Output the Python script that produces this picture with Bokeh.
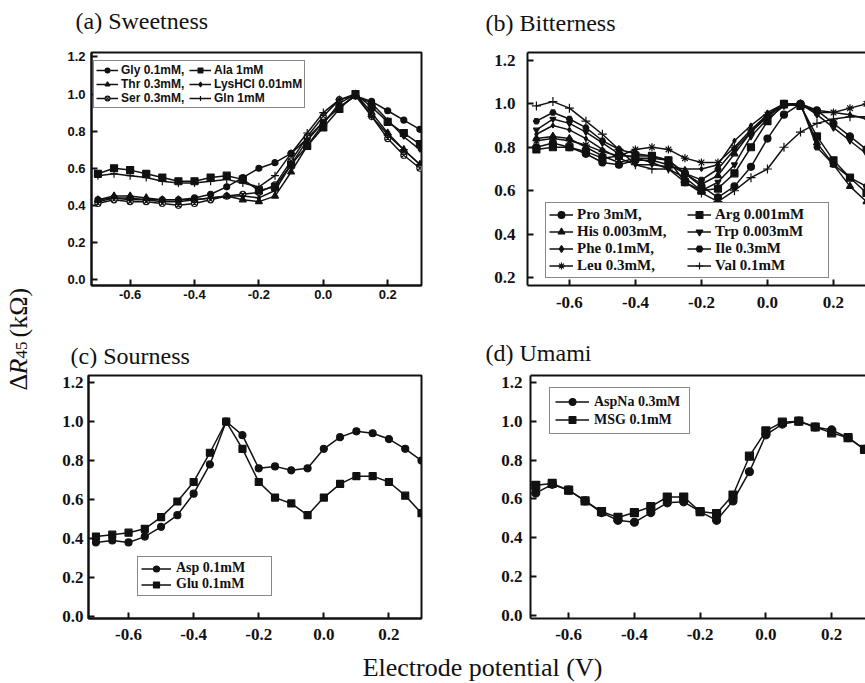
from bokeh.plotting import figure
from bokeh.layouts import row, column
from bokeh.models import Range1d, Legend, LegendItem, LinearAxis, FixedTicker, PrintfTickFormatter
from bokeh.core.properties import value
from bokeh.embed import file_html
from bokeh.resources import INLINE

# ---------------- data ----------------
potential = [-0.70, -0.65, -0.60, -0.55, -0.50, -0.45, -0.40, -0.35, -0.30, -0.25, -0.20,
             -0.15, -0.10, -0.05, 0.00, 0.05, 0.10, 0.15, 0.20, 0.25, 0.30]

x_ticks = [-0.6, -0.4, -0.2, 0.0, 0.2]
y_ticks_full = [0.0, 0.2, 0.4, 0.6, 0.8, 1.0, 1.2]
y_ticks_b = [0.2, 0.4, 0.6, 0.8, 1.0, 1.2]

# (a) Sweetness
gly = [0.43, 0.44, 0.44, 0.43, 0.43, 0.43, 0.44, 0.46, 0.50, 0.55, 0.60, 0.63, 0.68, 0.76, 0.85, 0.93, 0.99, 0.96, 0.91, 0.86, 0.81]
ala = [0.57, 0.60, 0.59, 0.57, 0.55, 0.53, 0.53, 0.55, 0.56, 0.54, 0.48, 0.50, 0.62, 0.72, 0.82, 0.92, 1.00, 0.93, 0.85, 0.79, 0.73]
thr = [0.43, 0.45, 0.45, 0.44, 0.43, 0.43, 0.43, 0.44, 0.45, 0.43, 0.42, 0.45, 0.58, 0.72, 0.84, 0.95, 1.00, 0.90, 0.79, 0.70, 0.62]
lys = [0.42, 0.44, 0.43, 0.43, 0.42, 0.42, 0.43, 0.44, 0.45, 0.45, 0.44, 0.48, 0.62, 0.75, 0.85, 0.93, 0.99, 0.95, 0.86, 0.77, 0.70]
ser = [0.41, 0.43, 0.42, 0.42, 0.41, 0.40, 0.41, 0.43, 0.45, 0.46, 0.47, 0.51, 0.64, 0.77, 0.88, 0.97, 1.00, 0.88, 0.76, 0.67, 0.60]
gln = [0.56, 0.57, 0.56, 0.55, 0.53, 0.52, 0.52, 0.53, 0.54, 0.52, 0.50, 0.56, 0.68, 0.79, 0.90, 0.97, 0.99, 0.88, 0.78, 0.70, 0.62]
labels_a = ["Gly 0.1mM,", "Thr 0.3mM,", "Ser 0.3mM,", "Ala 1mM", "LysHCl 0.01mM", "Gln 1mM"]

# (b) Bitterness
pro = [0.80, 0.82, 0.80, 0.77, 0.73, 0.72, 0.74, 0.74, 0.72, 0.68, 0.62, 0.57, 0.62, 0.71, 0.84, 0.95, 1.00, 0.97, 0.91, 0.85, 0.79]
his = [0.84, 0.85, 0.84, 0.80, 0.76, 0.73, 0.75, 0.75, 0.74, 0.68, 0.63, 0.67, 0.77, 0.87, 0.95, 0.99, 1.00, 0.82, 0.72, 0.62, 0.55]
phe = [0.86, 0.90, 0.88, 0.84, 0.79, 0.75, 0.72, 0.72, 0.71, 0.70, 0.70, 0.72, 0.83, 0.90, 0.96, 1.00, 0.99, 0.97, 0.96, 0.95, 0.93]
leu = [0.83, 0.84, 0.83, 0.81, 0.78, 0.76, 0.79, 0.80, 0.79, 0.75, 0.73, 0.73, 0.80, 0.88, 0.95, 1.00, 1.00, 0.96, 0.96, 0.98, 1.00]
arg = [0.79, 0.80, 0.80, 0.78, 0.75, 0.76, 0.76, 0.76, 0.74, 0.64, 0.60, 0.61, 0.68, 0.80, 0.92, 1.00, 0.99, 0.85, 0.74, 0.66, 0.59]
trp = [0.88, 0.93, 0.91, 0.87, 0.82, 0.77, 0.75, 0.73, 0.70, 0.66, 0.60, 0.64, 0.72, 0.85, 0.93, 0.99, 1.00, 0.95, 0.89, 0.83, 0.77]
ile = [0.92, 0.96, 0.93, 0.89, 0.83, 0.79, 0.77, 0.76, 0.74, 0.68, 0.65, 0.70, 0.79, 0.87, 0.94, 1.00, 1.00, 0.80, 0.72, 0.66, 0.62]
val = [0.99, 1.01, 0.98, 0.92, 0.86, 0.79, 0.72, 0.70, 0.70, 0.64, 0.59, 0.55, 0.60, 0.66, 0.70, 0.80, 0.87, 0.91, 0.93, 0.94, 0.94]
labels_b = ["Pro 3mM,", "His 0.003mM,", "Phe 0.1mM,", "Leu 0.3mM,", "Arg 0.001mM", "Trp 0.003mM", "Ile 0.3mM", "Val 0.1mM"]

# (c) Sourness
asp = [0.38, 0.39, 0.38, 0.41, 0.46, 0.52, 0.63, 0.78, 1.00, 0.93, 0.76, 0.77, 0.75, 0.76, 0.86, 0.92, 0.95, 0.94, 0.91, 0.86, 0.80]
glu = [0.41, 0.42, 0.43, 0.45, 0.51, 0.59, 0.69, 0.84, 1.00, 0.86, 0.69, 0.61, 0.58, 0.52, 0.61, 0.68, 0.72, 0.72, 0.69, 0.62, 0.53]
labels_c = ["Asp 0.1mM", "Glu 0.1mM"]

# (d) Umami
aspna = [0.63, 0.675, 0.645, 0.59, 0.53, 0.49, 0.48, 0.53, 0.58, 0.585, 0.535, 0.49, 0.59, 0.74, 0.93, 0.985, 1.00, 0.97, 0.955, 0.915, 0.855]
msg = [0.67, 0.68, 0.645, 0.59, 0.535, 0.505, 0.53, 0.56, 0.61, 0.61, 0.535, 0.525, 0.62, 0.82, 0.95, 0.995, 1.00, 0.97, 0.94, 0.915, 0.855]
labels_d = ["AspNa 0.3mM", "MSG 0.1mM"]

titles = ["(a) Sweetness", "(b) Bitterness", "(c) Sourness", "(d) Umami"]
y_label_parts = ["\u0394", "R", "45", "(k\u03a9)"]
x_label = "Electrode potential (V)"

SERIF = "Liberation Serif"
SANS = "Liberation Sans"
INK = "#111111"


def make_panel(width, height, bl, br, bt, bb, xr, yr, yticks, tick_font, tick_size,
               xstand, ystand, open_right=False):
    p = figure(width=width, height=height, x_range=Range1d(*xr), y_range=Range1d(*yr),
               output_backend="svg", toolbar_location=None, title=None,
               min_border_left=bl, min_border_right=br, min_border_top=bt, min_border_bottom=bb)
    p.grid.visible = False
    p.background_fill_color = "white"
    p.border_fill_color = "white"
    xa = p.below[0]
    ya = p.left[0]
    xa.ticker = FixedTicker(ticks=x_ticks)
    ya.ticker = FixedTicker(ticks=yticks)
    for ax, st in ((xa, xstand), (ya, ystand)):
        ax.formatter = PrintfTickFormatter(format="%.1f")
        ax.axis_line_width = 2
        ax.axis_line_color = INK
        ax.major_tick_in = 6
        ax.major_tick_out = 0
        ax.major_tick_line_width = 2
        ax.major_tick_line_color = INK
        ax.minor_tick_line_color = None
        ax.major_label_standoff = st
        ax.major_label_text_font = tick_font
        ax.major_label_text_font_style = "bold"
        ax.major_label_text_font_size = tick_size
        ax.major_label_text_color = INK
    if open_right:
        p.outline_line_color = None
        top = LinearAxis(ticker=FixedTicker(ticks=[]), major_label_text_font_size="0px",
                         axis_line_width=2, axis_line_color=INK,
                         major_tick_line_color=None, minor_tick_line_color=None,
                         major_label_standoff=0)
        p.add_layout(top, "above")
    else:
        p.outline_line_color = INK
        p.outline_line_width = 2
    return p


def add_series(p, series, legend_kw, loc, nrows):
    items = []
    for label, ys, marker, fill, msize in series:
        ln = p.line(potential, ys, line_color=INK, line_width=1.5)
        sc = p.scatter(potential, ys, marker=marker, size=msize, line_color=INK,
                       fill_color=fill, line_width=1.2)
        items.append(LegendItem(label=label, renderers=[ln, sc]))
    leg = Legend(items=items, location=loc, nrows=nrows, orientation="vertical",
                 border_line_color=INK, border_line_width=1.5, background_fill_color="white",
                 background_fill_alpha=1.0, margin=0, label_text_color=INK,
                 label_text_font_style="bold", **legend_kw)
    p.add_layout(leg)


def strip(width, height):
    s = figure(width=width, height=height, x_range=Range1d(0, width), y_range=Range1d(0, height),
               output_backend="svg", toolbar_location=None, x_axis_location=None,
               y_axis_location=None, min_border=0, title=None)
    s.grid.visible = False
    s.outline_line_color = None
    s.background_fill_color = "white"
    s.border_fill_color = "white"
    return s


def title_text(s, x, y, txt):
    s.text(x=[x], y=[y], text=[txt], text_align="left", text_baseline="middle",
           text_font=value(SERIF), text_font_style="normal", text_font_size="24px", text_color=INK)


# (a)  page x 50..470, y 40..320
pa = make_panel(420, 280, 41, 49, 12, 35, (-0.72, 0.305), (-0.032, 1.224), y_ticks_full,
                SANS, "13px", 4, 6)
add_series(pa, [
    (labels_a[0], gly, "circle", INK, 6),
    (labels_a[1], thr, "triangle", INK, 7),
    (labels_a[2], ser, "circle_x", "white", 6),
    (labels_a[3], ala, "square", INK, 7),
    (labels_a[4], lys, "diamond", INK, 5),
    (labels_a[5], gln, "cross", INK, 8),
], dict(label_text_font=SANS, label_text_font_size="12px", glyph_width=22, glyph_height=12,
        label_height=12, label_standoff=3, padding=2, spacing=0, label_width=68), (2, 177), 3)

# (b)  page x 470..865, y 40..320
pb = make_panel(395, 280, 57, 0, 9, 32, (-0.727, 0.297), (0.164, 1.236), y_ticks_b,
                SERIF, "17px", 11, 12, open_right=True)
add_series(pb, [
    (labels_b[0], pro, "circle", INK, 7),
    (labels_b[1], his, "triangle", INK, 7),
    (labels_b[2], phe, "diamond", INK, 5),
    (labels_b[3], leu, "asterisk", INK, 8),
    (labels_b[4], arg, "square", INK, 7),
    (labels_b[5], trp, "inverted_triangle", INK, 6),
    (labels_b[6], ile, "hex", INK, 6),
    (labels_b[7], val, "cross", INK, 9),
], dict(label_text_font=SERIF, label_text_font_size="15px", glyph_width=24, glyph_height=17,
        label_height=17, label_standoff=4, padding=3, spacing=0, label_width=110),
    (18, 7), 4)

# (c)  page x 50..470, y 368..652
pc = make_panel(420, 284, 38, 49, 7, 34, (-0.723, 0.30), (-0.01, 1.236), y_ticks_full,
                SERIF, "17px", 10, 5)
add_series(pc, [
    (labels_c[0], asp, "circle", INK, 7),
    (labels_c[1], glu, "square", INK, 7),
], dict(label_text_font=SERIF, label_text_font_size="14px", glyph_width=30, glyph_height=15,
        label_height=15, label_standoff=5, padding=3, spacing=0, label_width=92), (49, 22), 2)

# (d)  page x 470..865, y 368..652
pd_ = make_panel(395, 284, 60, 0, 7, 29, (-0.716, 0.303), (-0.015, 1.235), y_ticks_full,
                 SERIF, "17px", 10, 8, open_right=True)
add_series(pd_, [
    (labels_d[0], aspna, "circle", INK, 8),
    (labels_d[1], msg, "square", INK, 8),
], dict(label_text_font=SERIF, label_text_font_size="14px", glyph_width=34, glyph_height=17,
        label_height=17, label_standoff=5, padding=5, spacing=1, label_width=90), (19, 184), 2)

# title strips
t1 = strip(815, 40)      # page y 0..40, x 50..865
title_text(t1, 25, 20, titles[0])
title_text(t1, 435, 18, titles[1])
t2 = strip(815, 48)      # page y 320..368
title_text(t2, 20, 13, titles[2])
title_text(t2, 435, 16, titles[3])

# y-label strip (page x 0..50, y 0..652)
ys_ = strip(50, 652)
ys_.text(x=[18], y=[262], text=[y_label_parts[0]], angle=1.5708, text_align="left",
         text_baseline="alphabetic", text_font=value(SERIF), text_font_size="26px", text_color=INK)
ys_.text(x=[18], y=[278], text=[y_label_parts[1]], angle=1.5708, text_align="left",
         text_baseline="alphabetic", text_font=value(SERIF), text_font_style="italic",
         text_font_size="26px", text_color=INK)
ys_.text(x=[21], y=[294], text=[y_label_parts[2]], angle=1.5708, text_align="left",
         text_baseline="alphabetic", text_font=value(SERIF), text_font_size="17px", text_color=INK)
ys_.text(x=[18], y=[315], text=[y_label_parts[3]], angle=1.5708, text_align="left",
         text_baseline="alphabetic", text_font=value(SERIF), text_font_size="26px", text_color=INK)

# x-label strip (page y 652..683)
xs_ = strip(865, 31)
xs_.text(x=[482], y=[16], text=[x_label], text_align="center", text_baseline="middle",
         text_font=value(SERIF), text_font_size="26px", text_color=INK)

layout = column(row(ys_, column(t1, row(pa, pb), t2, row(pc, pd_))), xs_)

open("out.html", "w").write(file_html(layout, INLINE))
